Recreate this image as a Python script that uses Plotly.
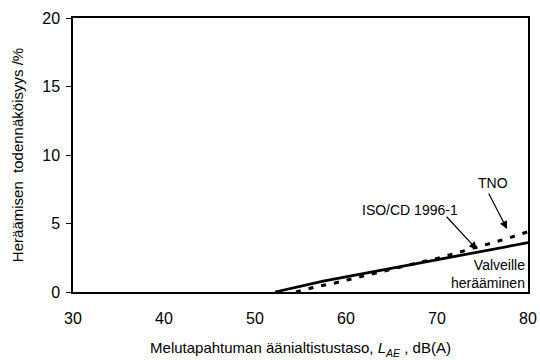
import plotly.graph_objects as go

# Data
solid_x = [52.2, 57.5, 80]
solid_y = [0.0, 0.8, 3.6]
dash_x = [54.5, 57.1, 58.8, 64.5, 67.4, 70.3, 72.2, 75.1, 77.7, 80]
dash_y = [0.0, 0.44, 0.66, 1.6, 2.05, 2.5, 2.85, 3.4, 3.9, 4.4]
x_ticks = [30, 40, 50, 60, 70, 80]
y_ticks = [0, 5, 10, 15, 20]

fig = go.Figure()
fig.add_trace(go.Scatter(x=dash_x, y=dash_y, mode="lines",
                         line=dict(color="black", width=3, dash="5px,8px"),
                         showlegend=False, hoverinfo="skip"))
fig.add_trace(go.Scatter(x=solid_x, y=solid_y, mode="lines",
                         line=dict(color="black", width=2.8),
                         showlegend=False, hoverinfo="skip"))

font = dict(family="Liberation Sans, Arial, sans-serif", color="black")

fig.update_layout(
    width=540, height=360,
    margin=dict(l=73, r=12, t=18, b=68),
    paper_bgcolor="white", plot_bgcolor="white",
    font=dict(size=16, **font),
    xaxis=dict(range=[30, 80], tickvals=x_ticks, ticks="", showgrid=False,
               zeroline=False, showline=True, linecolor="black", linewidth=1.5,
               mirror=True, tickfont=dict(size=16), ticklabelstandoff=11,
               automargin=False,
               title=dict(text="Melutapahtuman äänialtistustaso, <i>L</i><sub><i>AE</i></sub> , dB(A)",
                          font=dict(size=15), standoff=17)),
    yaxis=dict(range=[0, 20], tickvals=y_ticks, ticks="outside", ticklen=5,
               tickcolor="black", showgrid=False, zeroline=False, showline=True,
               linecolor="black", linewidth=1.5, mirror=True, tickfont=dict(size=16),
               ticklabelstandoff=3, automargin=False,
               title=dict(text="Heräämisen  todennäköisyys /%", font=dict(size=15), standoff=15)),
)

# arrows (head and tail in data coordinates)
fig.add_annotation(x=74.4, y=3.1, ax=70.9, ay=5.6, axref="x", ayref="y",
                   xref="x", yref="y", text="", showarrow=True, arrowhead=2,
                   arrowsize=1.3, arrowwidth=1.2, arrowcolor="black")
fig.add_annotation(x=77.7, y=4.6, ax=75.6, ay=7.3, axref="x", ayref="y",
                   xref="x", yref="y", text="", showarrow=True, arrowhead=2,
                   arrowsize=1.3, arrowwidth=1.2, arrowcolor="black")

fig.add_annotation(x=0.923, y=0.398, xref="paper", yref="paper", text="TNO",
                   showarrow=False, xanchor="center", yanchor="middle", font=dict(size=14))
fig.add_annotation(x=0.741, y=0.299, xref="paper", yref="paper", text="ISO/CD 1996-1",
                   showarrow=False, xanchor="center", yanchor="middle", font=dict(size=14))
fig.add_annotation(x=0.997, y=0.067, xref="paper", yref="paper",
                   text="Valveille<br>herääminen", showarrow=False,
                   align="right", xanchor="right", yanchor="middle", font=dict(size=14))

fig.write_html("out.html")
